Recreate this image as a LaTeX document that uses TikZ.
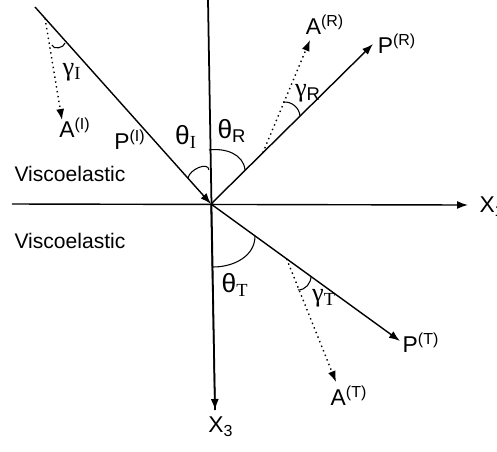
\documentclass[tikz,border=0pt]{standalone}
\usepackage{fontspec}
\setmainfont{Liberation Sans}
\newfontfamily\grk{Liberation Serif}
\usetikzlibrary{calc,arrows.meta}

\begin{document}
\begin{tikzpicture}[x=0.02cm, y=0.02cm,
        axis/.style={line width=1pt},
        ray/.style={line width=0.8pt, -{Latex[length=2.2mm,width=1.6mm]}},
        pol/.style={dotted, line width=0.8pt, -{Latex[length=2.2mm,width=1.6mm]}},
        lbl/.style={font=\fontsize{13}{15}\selectfont, inner sep=0pt},
        glbl/.style={font=\fontsize{15}{17}\selectfont, inner sep=0pt},
        ang/.style={line width=0.6pt}]
        \useasboundingbox (0,0) rectangle (497,-451);

        % Axes
        \coordinate (O) at (211,-204);
        \coordinate (top) at (208,0);
        \coordinate (bot) at (215,-410);
        \coordinate (left) at (12,-204);
        \coordinate (right) at (468,-205);
        \draw[axis] (top) -- (bot);
        \draw[axis, ray] (O) -- (bot);
        \draw[axis, ray] (left) -- (right);
        \node[lbl] (x1) at (492,-207) {X\textsubscript{1}};
        \node[lbl] (x3) at (221,-427) {X\textsubscript{3}};

        % Incident, reflected and transmitted rays
        \coordinate (Pi) at (35,-7);
        \coordinate (Pr) at (373,-44);
        \coordinate (Pt) at (400,-341);
        \draw[ray] (Pi) -- (O);
        \draw[ray] (O) -- (Pr);
        \draw[ray] (O) -- (Pt);

        % Polarization vectors
        \coordinate (Ai0) at ($(Pi)!0.057!(O)$);
        \coordinate (Ar0) at ($(O)!0.32!(Pr)$);
        \coordinate (At0) at ($(O)!0.40!(Pt)$);
        \coordinate (Ai1) at (62,-120);
        \coordinate (Ar1) at (310,-40);
        \coordinate (At1) at (336,-382);
        \draw[pol] (Ai0) -- (Ai1);
        \draw[pol] (Ar0) -- (Ar1);
        \draw[pol] (At0) -- (At1);

        % Angle arcs
        \draw[ang] (188,-178) to[out=80, in=95] (209,-170);
        \draw[ang] (209,-150) to[out=8, in=95] (245,-170);
        \draw[ang] (213,-267) to[out=0, in=-90] (255,-236);
        \draw[ang] (52,-45) to[out=-80, in=-100] (65,-43);
        \draw[ang] (283,-102) to[out=5, in=95] (300,-116);
        \draw[ang] (298,-290) to[out=0, in=-90] (311,-276);

        % Labels
        \node[lbl] (pI) at (130,-140) {P\textsuperscript{(I)}};
        \node[lbl] (aI) at (75,-128) {A\textsuperscript{(I)}};
        \node[lbl] (pR) at (397,-44) {P\textsuperscript{(R)}};
        \node[lbl] (aR) at (325,-25) {A\textsuperscript{(R)}};
        \node[lbl] (pT) at (421,-343) {P\textsuperscript{(T)}};
        \node[lbl] (aT) at (349,-396) {A\textsuperscript{(T)}};
        \node[glbl] (thI) at (186,-137) {θ\textsubscript{\grk I}};
        \node[glbl] (thR) at (232,-131) {θ\textsubscript{R}};
        \node[glbl] (thT) at (235,-285) {θ\textsubscript{\grk T}};
        \node[glbl] (gaI) at (72,-72) {{\grk γ}\textsubscript{\grk I}};
        \node[glbl] (gaR) at (308,-93) {{\grk γ}\textsubscript{R}};
        \node[glbl] (gaT) at (324,-298) {{\grk γ}\textsubscript{\grk T}};
        \node[lbl, font=\fontsize{12}{14}\selectfont] (up) at (70,-174) {Viscoelastic};
        \node[lbl, font=\fontsize{12}{14}\selectfont] (down) at (70,-241) {Viscoelastic};
\end{tikzpicture}
\end{document}
